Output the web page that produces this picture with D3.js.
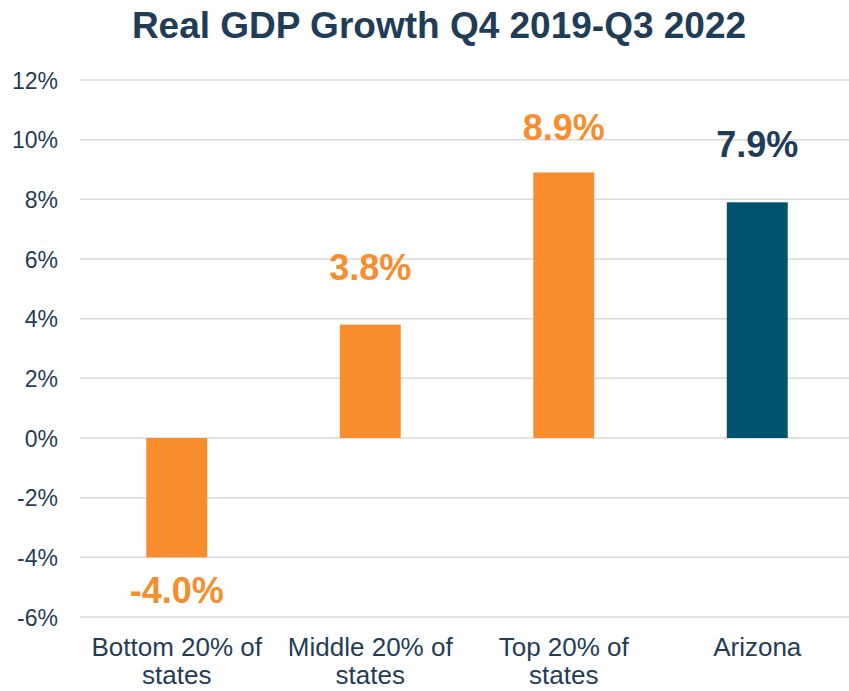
<!DOCTYPE html>
<html>
<head>
<meta charset="utf-8">
<script src="https://cdn.jsdelivr.net/npm/d3@7"></script>
<style>
  html, body { margin: 0; padding: 0; background: #ffffff; }
  svg { display: block; }
  text { font-family: "Liberation Sans", Arial, sans-serif; }
</style>
</head>
<body>
<svg id="chart" width="849" height="691"></svg>
<script>
const title = "Real GDP Growth Q4 2019-Q3 2022";
const categories = [["Bottom 20% of", "states"], ["Middle 20% of", "states"], ["Top 20% of", "states"], ["Arizona"]];
const values = [-4.0, 3.8, 8.9, 7.9];
const valueLabels = ["-4.0%", "3.8%", "8.9%", "7.9%"];
const barColors = ["#F78D2D", "#F78D2D", "#F78D2D", "#00536F"];
const labelColors = ["#F78D2D", "#F78D2D", "#F78D2D", "#1F3D58"];
const yTicks = [-6, -4, -2, 0, 2, 4, 6, 8, 10, 12];

const svg = d3.select("#chart");
const W = 849, H = 691;
const plot = { left: 80, right: 854, top: 80, bottom: 617 };
const textColor = "#1F3D58";

const x = d3.scaleBand()
  .domain(d3.range(values.length))
  .range([plot.left, plot.right])
  .paddingInner(0.685)
  .paddingOuter(0.3425);

const y = d3.scaleLinear()
  .domain([-6, 12])
  .range([plot.bottom, plot.top]);

// Title
svg.append("text")
  .attr("x", 439)
  .attr("y", 38)
  .attr("text-anchor", "middle")
  .attr("font-size", "37px")
  .attr("font-weight", "bold")
  .attr("fill", textColor)
  .text(title);

// Gridlines
svg.append("g")
  .selectAll("line")
  .data(yTicks)
  .join("line")
  .attr("x1", plot.left)
  .attr("x2", W)
  .attr("y1", d => y(d))
  .attr("y2", d => y(d))
  .attr("stroke", "#D9D9D9")
  .attr("stroke-width", 1.5);

// Y axis labels
const yAxis = d3.axisLeft(y)
  .tickValues(yTicks)
  .tickFormat(d => d + "%")
  .tickSize(0)
  .tickPadding(0);
const yg = svg.append("g")
  .attr("transform", `translate(58,0)`)
  .call(yAxis);
yg.select(".domain").remove();
yg.selectAll("text")
  .attr("font-family", "'Liberation Sans', Arial, sans-serif")
  .attr("font-size", "23px")
  .attr("fill", textColor)
  .attr("dy", "0.36em");

// Bars
svg.append("g")
  .selectAll("rect")
  .data(values)
  .join("rect")
  .attr("x", (d, i) => x(i))
  .attr("width", x.bandwidth())
  .attr("y", d => y(Math.max(0, d)))
  .attr("height", d => Math.abs(y(d) - y(0)))
  .attr("fill", (d, i) => barColors[i]);

// Value labels
svg.append("g")
  .selectAll("text")
  .data(values)
  .join("text")
  .attr("x", (d, i) => x(i) + x.bandwidth() / 2)
  .attr("y", d => d >= 0 ? Math.max(y(d) - 45, y(10)) : y(d) + 46)
  .attr("text-anchor", "middle")
  .attr("font-size", "36px")
  .attr("font-weight", "bold")
  .attr("fill", (d, i) => labelColors[i])
  .text((d, i) => valueLabels[i]);

// Category labels
const cat = svg.append("g")
  .selectAll("text")
  .data(categories)
  .join("text")
  .attr("x", (d, i) => x(i) + x.bandwidth() / 2)
  .attr("y", 656)
  .attr("text-anchor", "middle")
  .attr("font-size", "26px")
  .attr("fill", textColor);
cat.selectAll("tspan")
  .data(d => d)
  .join("tspan")
  .attr("x", function() { return d3.select(this.parentNode).attr("x"); })
  .attr("dy", (d, i) => i === 0 ? 0 : 28)
  .text(d => d);
</script>
</body>
</html>
